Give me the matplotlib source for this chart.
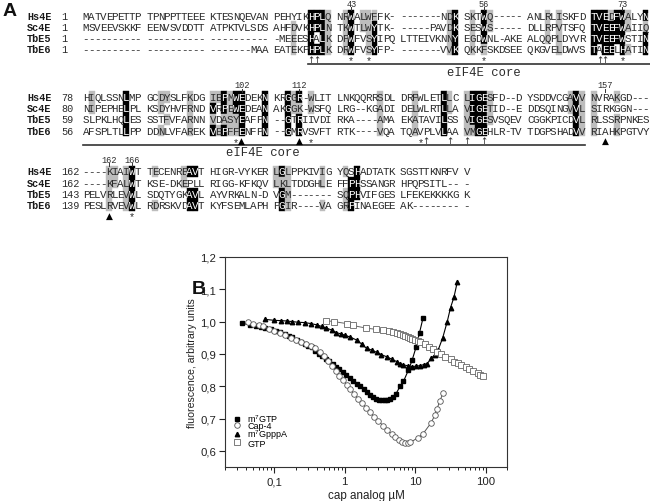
import numpy as np
import matplotlib
matplotlib.use('Agg')
import matplotlib.pyplot as plt
from matplotlib.patches import Rectangle
from matplotlib.ticker import FixedLocator, FixedFormatter, LogLocator, NullFormatter

# ---------------- panel A: alignment data ----------------
names = ['Hs4E', 'Sc4E', 'TbE5', 'TbE6']

block1_start = [1, 1, 1, 1]
block1_seq = [
    "MATVEPETTP TPNPPTTEEE KTESNQEVAN PEHYIKHPLQ NRWALWFFK- -------NDK SKTWQ----- ANLRLISKFD TVEDFWALYN",
    "MSVEEVSKKF EENVSVDDTT ATPKTVLSDS AHFDVKHPLN TKWTLWYTK- -----PAVDK SESWS----- DLLRPVTSFQ TVEEFWAIIQ",
    "---------- ---------- ---------- -MEEESHALK DPWFVSYIPQ LTTEIVKNNY EGDWNL-AKE ALQQPLDYVR TVEEFWSTIN",
    "---------- ---------- -------MAA EATEKPHPLK DRWFVSYFP- -------VVK QKKFSKDSEE QKGVELDWVS TAEELHATIN"]
# '.' plain, 'g' grey box, 'k' black box
block1_shade = [
    ".......... .......... .......... ......kkkg .gk.ggg... ........gk .g.kg..... ...g.g.... kkkgkkg..k",
    ".......... .......... .......... ...g..kkkg .gk.ggk... ........gk .g.kg..... ...g.g.... kkkkkkg..g",
    ".......... .......... .......... ...g..k.kg .gk..gk... ........gk .g.k...... ...g.g.... kkkkkk...k",
    ".......... .......... .......... ...g..kkkg .gk..gk... ........gk .g.g...... .....g.... k.kk.kg..k"]
block1_labels = [(46, '43'), (69, '56'), (93, '73')]
block1_marks = [(39, '↑'), (40, '↑'), (46, '*'), (49, '*'), (69, '*'),
                (89, '↑'), (90, '↑'), (93, '*')]

block2_start = [78, 80, 59, 56]
block2_seq = [
    "HIQLSSNLMP GCDYSLFKDG IEPMWEDEKN KRGGR-WLIT LNKQQRRSDL DRFWLETLLC LIGESFD--D YSDDVCGAVV NVRAKGD---",
    "NIPEPHELPL KSDYHVFRND VRPEWEDEAN AKGGK-WSFQ LRG--KGADI DELWLRTLLA VIGETID--E DDSQINGVVL SIRKGGN---",
    "SLPKLHQLES SSTFVFARNN VDASYEAFPN --GTRIIVDI RKA----AMA EKATAVILSS VIGESVSQEV CGGKPICDVL RLSSRPNKES",
    "AFSPLTLLPP DDNLVFAREK VEPFFENFPN --GMRVSVFT RTK----VQA TQAVPLVLAA VMGEHLR-TV TDGPSHADVV RIAHKPGTVY"]
block2_shade = [
    ".g.....k.. ..gg...g.. ggkgkk...k ..kgk.g... .......g.. ..g....kg. gkkkg..... .......gkg g...g.....",
    ".g.....k.. ..g....g.. k.kgkk...k ..kgg.g... .......g.. ..g....kg. gkkkg..... .......gkg g.........",
    ".......k.. ...g...g.. g.gggk...k ..k.k..... .......g.. ..g....k.. gkkkg..... ........kg g...g.....",
    ".......k.. ..g....g.. kgkggk...k ..k.k..... .......g.. ..g....k.. ggkk...... ........kg g...g....."]
block2_labels = [(27, '102'), (37, '112'), (90, '157')]
block2_marks = [(26, '*'), (27, '▲'), (37, '▲'), (39, '*'), (58, '*'), (59, '↑'),
                (63, '↑'), (66, '↑'), (69, '↑'), (90, '▲')]

block3_start = [162, 162, 143, 139]
block3_seq = [
    "----KIAIWT TECENREAVT HIGR-VYKER LGLPPKIVIG YQSHADTATK SGSTTKNRFV V",
    "----KFALWT KSE-DKEPLL RIGG-KFKQV LKLTDDGHLE FFPHSSANGR HPQPSITL-- -",
    "PELVRLEVWL SDQTYGKAVL AYVRKALN-D VGM------- SQPHVIFGES LFEKEKKKKG K",
    "PESLRVEVWL RDRSKVDAVT KYFSEMLAPH PGIR----VA GRPINAEGEE AK-------- -"]
block3_shade = [
    "....gg.gk. .g....gkk. .......... gkg.....g. .g.k...... .......... .",
    "....gg.gk. ......g... .......... ggg.....g. ..kk...... .......... .",
    "....g..gk. .......kk. .......... .kg....... .gkk...... .......... .",
    "....g..gk. .g.....kk. .......... .kg.....g. .gk....... .......... ."]
block3_labels = [(4, '162'), (8, '166')]
block3_marks = [(4, '▲'), (8, '*')]

# ---------------- panel B: titration data ----------------
m7gtp_x = [0.035, 0.045, 0.055, 0.065, 0.075, 0.09, 0.105, 0.12, 0.14, 0.16, 0.18, 0.21,
           0.24, 0.27, 0.3, 0.34, 0.38, 0.43, 0.48, 0.54, 0.6, 0.67, 0.75, 0.84, 0.94,
           1.05, 1.18, 1.32, 1.48, 1.65, 1.85, 2.05, 2.3, 2.55, 2.8, 3.1, 3.4, 3.7, 4.0,
           4.4, 4.8, 5.3, 6.1, 6.8, 8.0, 9.0, 10.3, 11.5, 12.9]
m7gtp_y = [0.995, 0.99, 0.987, 0.984, 0.981, 0.977, 0.972, 0.967, 0.962, 0.956, 0.951, 0.944,
           0.937, 0.93, 0.925, 0.92, 0.91, 0.9, 0.893, 0.885, 0.877, 0.868, 0.86, 0.852, 0.843,
           0.835, 0.826, 0.817, 0.808, 0.8, 0.79, 0.782, 0.774, 0.767, 0.762, 0.758, 0.756,
           0.756, 0.758, 0.762, 0.768, 0.776, 0.80, 0.815, 0.85, 0.88, 0.922, 0.966, 1.012]

cap4_x = [0.042, 0.05, 0.06, 0.07, 0.085, 0.1, 0.12, 0.14, 0.17, 0.2, 0.24, 0.28, 0.33,
          0.38, 0.44, 0.5, 0.57, 0.65, 0.74, 0.84, 0.95, 1.07, 1.2, 1.35, 1.55, 1.75, 2.0,
          2.27, 2.6, 3.0, 3.5, 4.0, 4.6, 5.2, 5.9, 6.5, 7.2, 8.0, 8.5, 10.8, 12.9, 16.8,
          18.9, 20.4, 22.2, 24.9]
cap4_y = [0.998, 0.993, 0.99, 0.985, 0.978, 0.972, 0.966, 0.958, 0.95, 0.944, 0.937, 0.93,
          0.925, 0.918, 0.905, 0.893, 0.878, 0.863, 0.848, 0.833, 0.82, 0.805, 0.79, 0.776,
          0.762, 0.748, 0.734, 0.72, 0.706, 0.692, 0.678, 0.665, 0.652, 0.643, 0.635, 0.628,
          0.625, 0.624, 0.626, 0.64, 0.653, 0.687, 0.71, 0.731, 0.753, 0.78]

gppp_x = [0.074, 0.1, 0.125, 0.15, 0.18, 0.22, 0.27, 0.33, 0.4, 0.47, 0.55, 0.65, 0.76,
          0.88, 1.0, 1.2, 1.47, 1.75, 2.04, 2.4, 2.84, 3.3, 3.94, 4.6, 5.48, 6.1, 6.8, 8.0,
          9.0, 10.3, 11.8, 13.2, 14.7, 16.9, 18.9, 21.1, 24.5, 28.4, 31.6, 35.3, 39.4]
gppp_y = [1.007, 1.004, 1.003, 1.002, 1.0, 0.998, 0.997, 0.994, 0.99, 0.985, 0.98, 0.974,
          0.966, 0.962, 0.958, 0.952, 0.943, 0.93, 0.917, 0.912, 0.905, 0.898, 0.891, 0.884,
          0.876, 0.87, 0.866, 0.863, 0.861, 0.862, 0.864, 0.867, 0.87, 0.886, 0.898, 0.912,
          0.95, 1.0, 1.043, 1.075, 1.122]

gtp_x = [0.55, 0.7, 1.06, 1.3, 2.0, 2.8, 3.5, 4.2, 4.9, 5.5, 6.1, 6.7, 7.2, 7.9, 8.5, 9.1,
         10, 11, 11.8, 13.6, 15.5, 17.9, 20.4, 22.8, 26.8, 31.6, 35.3, 40.3, 45, 51.8,
         57.8, 66.7, 77.6, 83, 92.7]
gtp_y = [1.003, 1.0, 0.994, 0.988, 0.98, 0.976, 0.973, 0.97, 0.968, 0.965, 0.961, 0.958,
         0.955, 0.951, 0.948, 0.945, 0.943, 0.94, 0.936, 0.93, 0.922, 0.915, 0.907, 0.901,
         0.891, 0.884, 0.876, 0.871, 0.865, 0.86, 0.852, 0.847, 0.842, 0.836, 0.832]

y_ticks = [0.6, 0.7, 0.8, 0.9, 1.0, 1.1, 1.2]
y_ticklabels = ['0,6', '0,7', '0,8', '0,9', '1,0', '1,1', '1,2']
x_ticks = [0.1, 1, 10, 100]
x_ticklabels = ['0,1', '1', '10', '100']

# ---------------- figure ----------------
fig = plt.figure(figsize=(6.5, 5.02), dpi=100)
axA = fig.add_axes([0, 0, 1, 1])
axA.set_xlim(0, 650)
axA.set_ylim(502, 0)
axA.axis('off')

X0 = 83.0      # left edge of sequence text
PITCH = 5.77   # width of one character cell
ROW = 11.2     # row spacing
mono = ['Liberation Mono', 'DejaVu Sans Mono']
txt_col = '#2b2b2b'


def draw_block(y0, starts, seqs, shades, labels, marks):
    for r in range(4):
        y = y0 + r * ROW
        axA.text(27, y, names[r], family=mono, fontweight='bold', fontsize=7.3,
                 va='center', color='#1a1a1a')
        axA.text(61, y, str(starts[r]), family=mono, fontsize=7.3, va='center', color=txt_col)
        for i, (ch, sh) in enumerate(zip(seqs[r], shades[r])):
            if sh == 'g' or sh == 'k':
                fc = 'black' if sh == 'k' else '#bdbdbd'
                axA.add_patch(Rectangle((X0 + i * PITCH, y - ROW / 2), PITCH, ROW,
                                        facecolor=fc, edgecolor=fc, lw=0.3))
            if ch != ' ':
                axA.text(X0 + (i + 0.5) * PITCH, y, ch, family=mono, fontsize=7.8,
                         ha='center', va='center',
                         color='white' if sh == 'k' else txt_col)
    for i, lab in labels:
        cx = X0 + (i + 0.5) * PITCH
        axA.text(cx, y0 - 12, lab, family=mono, fontsize=6.2, ha='center', va='center',
                 color=txt_col)
        axA.plot([cx, cx], [y0 - 8.5, y0 - 5.5], color='#333333', lw=0.7)
    ym = y0 + 3 * ROW + 10
    for i, m in marks:
        cx = X0 + (i + 0.5) * PITCH
        if m == '▲':
            axA.text(cx, ym, m, family=['DejaVu Sans'], fontsize=6.5, ha='center',
                     va='center', color='black')
        elif m == '*':
            axA.text(cx, ym + 1, m, family=mono, fontsize=7.5, ha='center', va='center',
                     color=txt_col)
        else:
            axA.text(cx, ym, m, family=['DejaVu Sans'], fontsize=6.2, ha='center',
                     va='center', color=txt_col)


draw_block(16.5, block1_start, block1_seq, block1_shade, block1_labels, block1_marks)
draw_block(98, block2_start, block2_seq, block2_shade, block2_labels, block2_marks)
draw_block(172.5, block3_start, block3_seq, block3_shade, block3_labels, block3_marks)

# eIF4E core bars
axA.plot([308, 650], [65, 65], color='#333333', lw=1.2)
axA.text(484, 73, 'eIF4E core', family=mono, fontsize=8.8, ha='center', va='center',
         color=txt_col)
axA.plot([83, 585], [146, 146], color='#333333', lw=1.2)
axA.text(263, 153.5, 'eIF4E core', family=mono, fontsize=8.8, ha='center', va='center',
         color=txt_col)

axA.text(3, 12, 'A', family=['Liberation Sans'], fontweight='bold', fontsize=14,
         va='center', color='#111111')
axA.text(192, 290, 'B', family=['Liberation Sans'], fontweight='bold', fontsize=14,
         va='center', color='#111111')

# ---------------- panel B ----------------
sans = ['Liberation Sans', 'DejaVu Sans']
axB = fig.add_axes([225 / 650, 1 - 468 / 502, 282 / 650, 210 / 502])
axB.plot(m7gtp_x, m7gtp_y, color='black', lw=0.8, marker='s', ms=3.2, mfc='black',
         mec='black', label='m$^{\\mathregular{7}}$GTP')
axB.plot(cap4_x, cap4_y, color='#555555', lw=0.7, marker='o', ms=4.0, mfc='white',
         mec='#555555', mew=0.6, label='Cap-4')
axB.plot(gppp_x, gppp_y, color='black', lw=0.8, marker='^', ms=3.2, mfc='black',
         mec='black', label='m$^{\\mathregular{7}}$GpppA')
axB.plot(gtp_x, gtp_y, color='#666666', lw=0.7, marker='s', ms=3.8, mfc='white',
         mec='#666666', mew=0.6, label='GTP')

axB.set_xscale('log')
axB.set_xlim(0.02, 200)
axB.set_ylim(0.55, 1.2)
axB.xaxis.set_major_locator(FixedLocator(x_ticks))
axB.xaxis.set_major_formatter(FixedFormatter(x_ticklabels))
axB.xaxis.set_minor_locator(LogLocator(base=10, subs=np.arange(2, 10)))
axB.xaxis.set_minor_formatter(NullFormatter())
axB.yaxis.set_major_locator(FixedLocator(y_ticks))
axB.yaxis.set_major_formatter(FixedFormatter(y_ticklabels))
axB.tick_params(which='major', direction='out', length=4, width=0.8, labelsize=8.2,
                colors='#222222', top=False, right=False, pad=2.5)
axB.tick_params(which='minor', direction='out', length=2, width=0.6, top=False)
for lab in axB.get_xticklabels() + axB.get_yticklabels():
    lab.set_family(sans)
for s in axB.spines.values():
    s.set_linewidth(0.8)
    s.set_color('#333333')
axB.set_xlabel('cap analog µM', family=sans, fontsize=8.4, color='#222222', labelpad=2)
axB.set_ylabel('fluorescence, arbitrary units', family=sans, fontsize=7.6,
               color='#222222', labelpad=2)

leg = axB.legend(loc='lower left', bbox_to_anchor=(0.015, 0.075), frameon=False,
                 prop={'family': sans, 'size': 6.5}, handlelength=1.0,
                 handletextpad=0.6, labelspacing=-0.3, borderaxespad=0, numpoints=1)
for h in leg.legend_handles:
    h.set_linestyle('none')

fig.savefig('out.png', dpi=100)
